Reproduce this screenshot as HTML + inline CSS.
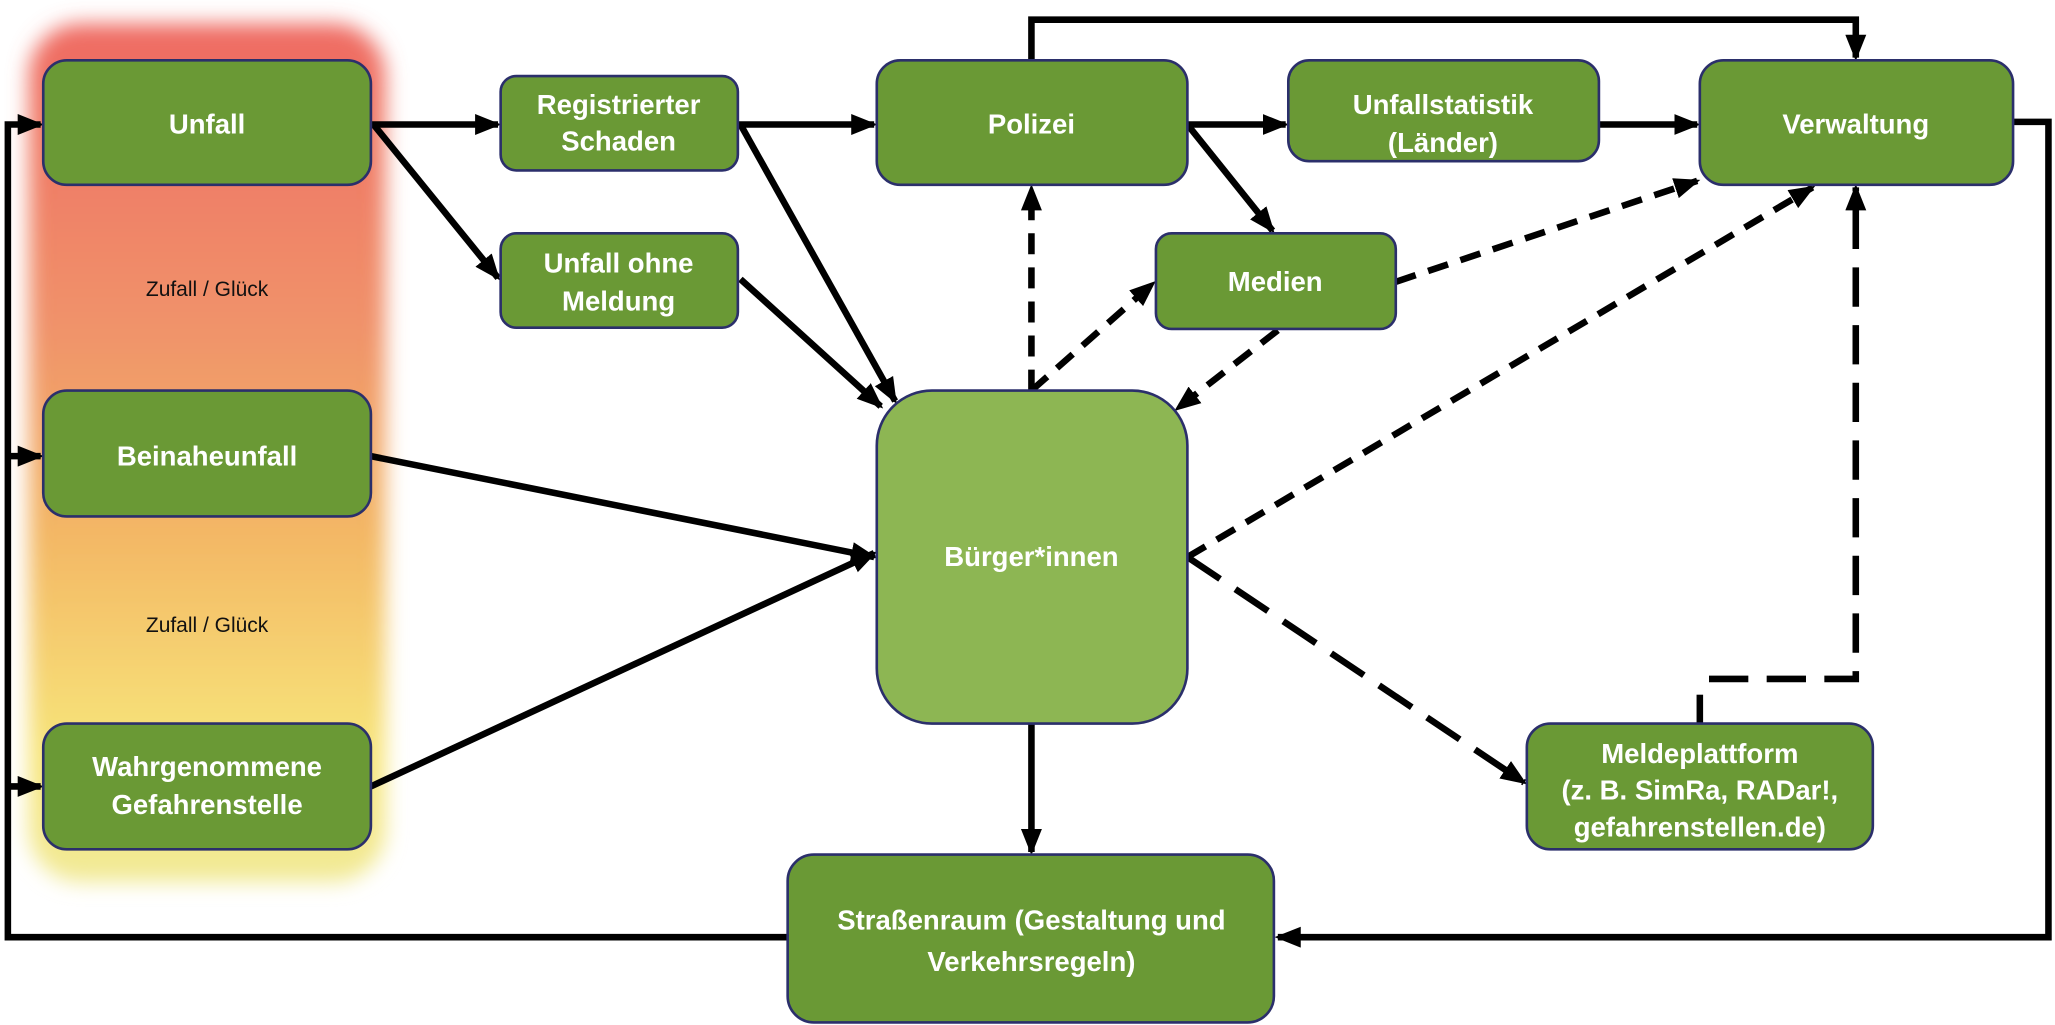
<!DOCTYPE html>
<html><head><meta charset="utf-8"><style>
html,body{margin:0;padding:0;background:#fff;}
svg{display:block;}
text{font-family:"Liberation Sans",sans-serif;font-weight:bold;fill:#fff;font-size:21px;text-anchor:middle;}
.n{font-weight:normal;fill:#111;font-size:16px;}
</style></head><body>
<svg width="2055" height="1025" viewBox="0 0 1568 782" preserveAspectRatio="none" xmlns="http://www.w3.org/2000/svg">
<defs>
<linearGradient id="g" x1="0" y1="0" x2="0" y2="1">
<stop offset="0" stop-color="#ef6a62"/>
<stop offset="0.35" stop-color="#f0926a"/>
<stop offset="0.6" stop-color="#f3b865"/>
<stop offset="0.85" stop-color="#f7e57a"/>
<stop offset="1" stop-color="#f1ea98"/>
</linearGradient>
<filter id="b" x="-20%" y="-10%" width="140%" height="120%"><feGaussianBlur stdDeviation="8"/></filter>
<marker id="a" markerWidth="4" markerHeight="3.2" refX="3.5" refY="1.6" orient="auto" markerUnits="strokeWidth"><path d="M0,0 L4,1.6 L0,3.2 z" fill="#000"/></marker>
</defs>
<rect x="22" y="18" width="272" height="655" rx="40" fill="url(#g)" filter="url(#b)"/>
<text class="n" x="158" y="226">Zufall / Glück</text>
<text class="n" x="158" y="482">Zufall / Glück</text>

<g fill="none" stroke="#000" stroke-width="5">
<line x1="283" y1="95" x2="380" y2="95" marker-end="url(#a)"/>
<line x1="285" y1="95" x2="380" y2="212" marker-end="url(#a)"/>
<line x1="563" y1="95" x2="667" y2="95" marker-end="url(#a)"/>
<line x1="565" y1="95" x2="683" y2="306" marker-end="url(#a)"/>
<line x1="565" y1="213" x2="672" y2="310" marker-end="url(#a)"/>
<line x1="906" y1="95" x2="981" y2="95" marker-end="url(#a)"/>
<line x1="906" y1="95" x2="971" y2="176" marker-end="url(#a)"/>
<line x1="1220" y1="95" x2="1295" y2="95" marker-end="url(#a)"/>
<polyline points="787,46 787,15 1416,15 1416,44" marker-end="url(#a)"/>
<polyline points="1536,93 1563,93 1563,715 975,715" marker-end="url(#a)"/>
<polyline points="601,715 6,715 6,95 31,95" marker-end="url(#a)"/>
<line x1="6" y1="348" x2="31" y2="348" marker-end="url(#a)"/>
<line x1="6" y1="600" x2="31" y2="600" marker-end="url(#a)"/>
<line x1="283" y1="348" x2="667" y2="425" marker-end="url(#a)"/>
<line x1="283" y1="600" x2="667" y2="422" marker-end="url(#a)"/>
<line x1="787" y1="552" x2="787" y2="650" marker-end="url(#a)"/>
<line x1="1297" y1="552" x2="1297" y2="530"/>
</g>
<g fill="none" stroke="#000" stroke-width="5" stroke-dasharray="16,10">
<line x1="787" y1="298" x2="787" y2="143" marker-end="url(#a)"/>
<line x1="787" y1="298" x2="880" y2="216" marker-end="url(#a)"/>
<line x1="975" y1="252" x2="898" y2="312" marker-end="url(#a)"/>
<line x1="1065" y1="215" x2="1295" y2="138" marker-end="url(#a)"/>
<line x1="906" y1="425" x2="1383" y2="143" marker-end="url(#a)"/>
<line x1="906" y1="425" x2="1163" y2="597" stroke-dasharray="30,14" marker-end="url(#a)"/>
<polyline points="1304,518 1416,518 1416,143" stroke-dasharray="30,14" marker-end="url(#a)"/>
</g>

<g fill="#6a9935" stroke="#2b2f6b" stroke-width="2">
<rect x="33" y="46" width="250" height="95" rx="18"/>
<rect x="382" y="58" width="181" height="72" rx="12"/>
<rect x="382" y="178" width="181" height="72" rx="12"/>
<rect x="669" y="46" width="237" height="95" rx="18"/>
<rect x="983" y="46" width="237" height="77" rx="16"/>
<rect x="1297" y="46" width="239" height="95" rx="18"/>
<rect x="882" y="178" width="183" height="73" rx="12"/>
<rect x="33" y="298" width="250" height="96" rx="18"/>
<rect x="33" y="552" width="250" height="96" rx="18"/>
<rect x="1165" y="552" width="264" height="96" rx="18"/>
<rect x="601" y="652" width="371" height="128" rx="20"/>
<rect x="669" y="298" width="237" height="254" rx="42" fill="#8db653"/>
</g>

<text x="158" y="102">Unfall</text>
<text x="472" y="87">Registrierter</text>
<text x="472" y="115">Schaden</text>
<text x="472" y="208">Unfall ohne</text>
<text x="472" y="237">Meldung</text>
<text x="787" y="102">Polizei</text>
<text x="1101" y="87">Unfallstatistik</text>
<text x="1101" y="116">(Länder)</text>
<text x="1416" y="102">Verwaltung</text>
<text x="973" y="222">Medien</text>
<text x="158" y="355">Beinaheunfall</text>
<text x="158" y="592">Wahrgenommene</text>
<text x="158" y="621">Gefahrenstelle</text>
<text x="787" y="432">Bürger*innen</text>
<text x="1297" y="582">Meldeplattform</text>
<text x="1297" y="610">(z. B. SimRa, RADar!,</text>
<text x="1297" y="638">gefahrenstellen.de)</text>
<text x="787" y="709">Straßenraum (Gestaltung und</text>
<text x="787" y="741">Verkehrsregeln)</text>
</svg>
</body></html>
